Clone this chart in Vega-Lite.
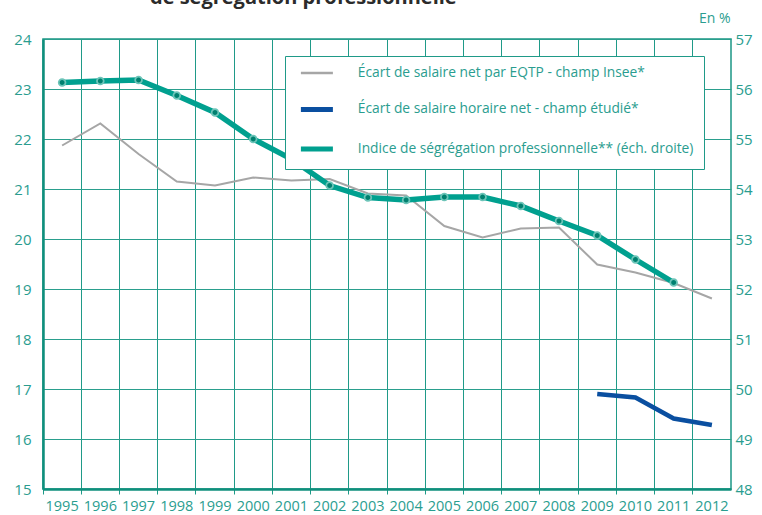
{
  "$schema": "https://vega.github.io/schema/vega-lite/v6.json",
  "width": 688,
  "height": 450,
  "autosize": {"type": "none"},
  "padding": {"left": 43, "top": 39, "right": 31, "bottom": 26},
  "background": "white",
  "config": {
    "font": "Open Sans",
    "view": {"stroke": "#1b9785", "strokeWidth": 1.5}
  },
  "title": {
    "text": "de ségrégation professionnelle",
    "anchor": "start",
    "frame": "group",
    "dx": 107,
    "offset": -13,
    "fontSize": 20,
    "fontWeight": "bold",
    "color": "#2b2b2b",
    "baseline": "alphabetic"
  },
  "data": {
    "values": [
      {"year": "1995", "series": "Écart de salaire net par EQTP - champ Insee*", "value": 21.87},
      {"year": "1996", "series": "Écart de salaire net par EQTP - champ Insee*", "value": 22.31},
      {"year": "1997", "series": "Écart de salaire net par EQTP - champ Insee*", "value": 21.7},
      {"year": "1998", "series": "Écart de salaire net par EQTP - champ Insee*", "value": 21.15},
      {"year": "1999", "series": "Écart de salaire net par EQTP - champ Insee*", "value": 21.07},
      {"year": "2000", "series": "Écart de salaire net par EQTP - champ Insee*", "value": 21.23},
      {"year": "2001", "series": "Écart de salaire net par EQTP - champ Insee*", "value": 21.17},
      {"year": "2002", "series": "Écart de salaire net par EQTP - champ Insee*", "value": 21.2},
      {"year": "2003", "series": "Écart de salaire net par EQTP - champ Insee*", "value": 20.91},
      {"year": "2004", "series": "Écart de salaire net par EQTP - champ Insee*", "value": 20.87},
      {"year": "2005", "series": "Écart de salaire net par EQTP - champ Insee*", "value": 20.26},
      {"year": "2006", "series": "Écart de salaire net par EQTP - champ Insee*", "value": 20.03},
      {"year": "2007", "series": "Écart de salaire net par EQTP - champ Insee*", "value": 20.21},
      {"year": "2008", "series": "Écart de salaire net par EQTP - champ Insee*", "value": 20.23},
      {"year": "2009", "series": "Écart de salaire net par EQTP - champ Insee*", "value": 19.49},
      {"year": "2010", "series": "Écart de salaire net par EQTP - champ Insee*", "value": 19.33},
      {"year": "2011", "series": "Écart de salaire net par EQTP - champ Insee*", "value": 19.12},
      {"year": "2012", "series": "Écart de salaire net par EQTP - champ Insee*", "value": 18.81},
      {"year": "2009", "series": "Écart de salaire horaire net - champ étudié*", "value": 16.9},
      {"year": "2010", "series": "Écart de salaire horaire net - champ étudié*", "value": 16.83},
      {"year": "2011", "series": "Écart de salaire horaire net - champ étudié*", "value": 16.41},
      {"year": "2012", "series": "Écart de salaire horaire net - champ étudié*", "value": 16.28},
      {"year": "1995", "series": "Indice de ségrégation professionnelle** (éch. droite)", "value": 56.13},
      {"year": "1996", "series": "Indice de ségrégation professionnelle** (éch. droite)", "value": 56.16},
      {"year": "1997", "series": "Indice de ségrégation professionnelle** (éch. droite)", "value": 56.18},
      {"year": "1998", "series": "Indice de ségrégation professionnelle** (éch. droite)", "value": 55.87},
      {"year": "1999", "series": "Indice de ségrégation professionnelle** (éch. droite)", "value": 55.53},
      {"year": "2000", "series": "Indice de ségrégation professionnelle** (éch. droite)", "value": 55.0},
      {"year": "2001", "series": "Indice de ségrégation professionnelle** (éch. droite)", "value": 54.6},
      {"year": "2002", "series": "Indice de ségrégation professionnelle** (éch. droite)", "value": 54.07},
      {"year": "2003", "series": "Indice de ségrégation professionnelle** (éch. droite)", "value": 53.83},
      {"year": "2004", "series": "Indice de ségrégation professionnelle** (éch. droite)", "value": 53.78},
      {"year": "2005", "series": "Indice de ségrégation professionnelle** (éch. droite)", "value": 53.84},
      {"year": "2006", "series": "Indice de ségrégation professionnelle** (éch. droite)", "value": 53.84},
      {"year": "2007", "series": "Indice de ségrégation professionnelle** (éch. droite)", "value": 53.66},
      {"year": "2008", "series": "Indice de ségrégation professionnelle** (éch. droite)", "value": 53.36},
      {"year": "2009", "series": "Indice de ségrégation professionnelle** (éch. droite)", "value": 53.07},
      {"year": "2010", "series": "Indice de ségrégation professionnelle** (éch. droite)", "value": 52.59},
      {"year": "2011", "series": "Indice de ségrégation professionnelle** (éch. droite)", "value": 52.13}
    ]
  },
  "encoding": {
    "x": {
      "field": "year",
      "type": "ordinal",
      "scale": {
        "type": "band",
        "paddingInner": 0,
        "paddingOuter": 0,
        "domain": ["1995","1996","1997","1998","1999","2000","2001","2002","2003","2004","2005","2006","2007","2008","2009","2010","2011","2012"]
      },
      "axis": {
        "orient": "bottom",
        "title": null,
        "bandPosition": 0,
        "grid": true,
        "gridColor": "#1f9a88",
        "gridWidth": 1,
        "ticks": true,
        "tickSize": 5,
        "tickColor": "#1f9a88",
        "tickWidth": 1,
        "domainColor": "#0f8f7c",
        "domainWidth": 2.5,
        "labelAngle": 0,
        "labelFontSize": 14.5,
        "labelColor": "#2a9d8f",
        "labelPadding": 5
      }
    }
  },
  "layer": [
    {
      "encoding": {
        "y": {
          "field": "value",
          "type": "quantitative",
          "scale": {"domain": [15, 24], "nice": false, "zero": false},
          "axis": {
            "orient": "left",
            "title": null,
            "values": [15, 16, 17, 18, 19, 20, 21, 22, 23, 24],
            "grid": true,
            "gridColor": "#2a9f8d",
            "gridWidth": 1.2,
            "ticks": false,
            "domainColor": "#0f8f7c",
            "domainWidth": 2.5,
            "labelFontSize": 15,
            "labelColor": "#2a9d8f",
            "labelPadding": 12
          }
        }
      },
      "layer": [
        {
          "transform": [{"filter": "datum.series === 'Écart de salaire net par EQTP - champ Insee*'"}],
          "mark": {"type": "line", "strokeWidth": 2},
          "encoding": {
            "color": {
              "field": "series",
              "type": "nominal",
              "scale": {
                "domain": ["Écart de salaire net par EQTP - champ Insee*", "Écart de salaire horaire net - champ étudié*", "Indice de ségrégation professionnelle** (éch. droite)"],
                "range": ["#a6a6a6", "#0a4fa0", "#00a08f"]
              },
              "legend": {
                "title": null,
                "orient": "none",
                "legendX": 242,
                "legendY": 17,
                "direction": "vertical",
                "fillColor": "white",
                "strokeColor": "#1f9a88",
                "padding": 10,
                "symbolType": "M-4,0H4",
                "symbolSize": 64,
                "symbolStrokeWidth": 4.5,
                "symbolOffset": 15,
                "labelOffset": 34,
                "rowPadding": 18.5,
                "labelFontSize": 13.8,
                "labelColor": "#2a9d8f",
                "labelLimit": 500,
                "encode": {
                  "symbols": {
                    "update": {
                      "strokeWidth": {"signal": "datum.value === 'Écart de salaire net par EQTP - champ Insee*' ? 2.5 : 5"}
                    }
                  }
                }
              }
            }
          }
        },
        {
          "transform": [{"filter": "datum.series === 'Écart de salaire horaire net - champ étudié*'"}],
          "mark": {"type": "line", "strokeWidth": 4.5},
          "encoding": {
            "color": {
              "field": "series",
              "type": "nominal",
              "scale": {
                "domain": ["Écart de salaire net par EQTP - champ Insee*", "Écart de salaire horaire net - champ étudié*", "Indice de ségrégation professionnelle** (éch. droite)"],
                "range": ["#a6a6a6", "#0a4fa0", "#00a08f"]
              }
            }
          }
        }
      ]
    },
    {
      "transform": [{"filter": "datum.series === 'Indice de ségrégation professionnelle** (éch. droite)'"}],
      "encoding": {
        "y": {
          "field": "value",
          "type": "quantitative",
          "scale": {"domain": [48, 57], "nice": false, "zero": false},
          "axis": {
            "orient": "right",
            "values": [48, 49, 50, 51, 52, 53, 54, 55, 56, 57],
            "grid": false,
            "ticks": false,
            "domain": false,
            "labelFontSize": 15,
            "labelColor": "#2a9d8f",
            "labelPadding": 4,
            "title": "En %",
            "titleAngle": 0,
            "titleAlign": "right",
            "titleBaseline": "middle",
            "titleX": -1,
            "titleY": -21,
            "titleFontSize": 14,
            "titleFontWeight": "normal",
            "titleColor": "#2a9d8f"
          }
        }
      },
      "layer": [
        {
          "mark": {"type": "line", "strokeWidth": 5.5},
          "encoding": {
            "color": {
              "field": "series",
              "type": "nominal",
              "scale": {
                "domain": ["Écart de salaire net par EQTP - champ Insee*", "Écart de salaire horaire net - champ étudié*", "Indice de ségrégation professionnelle** (éch. droite)"],
                "range": ["#a6a6a6", "#0a4fa0", "#00a08f"]
              }
            }
          }
        },
        {
          "mark": {"type": "point", "filled": true, "size": 45, "fill": "#00806f", "stroke": "#6cc4b8", "strokeWidth": 1.8, "opacity": 1},
          "encoding": {}
        }
      ]
    }
  ],
  "resolve": {"scale": {"y": "independent"}}
}
